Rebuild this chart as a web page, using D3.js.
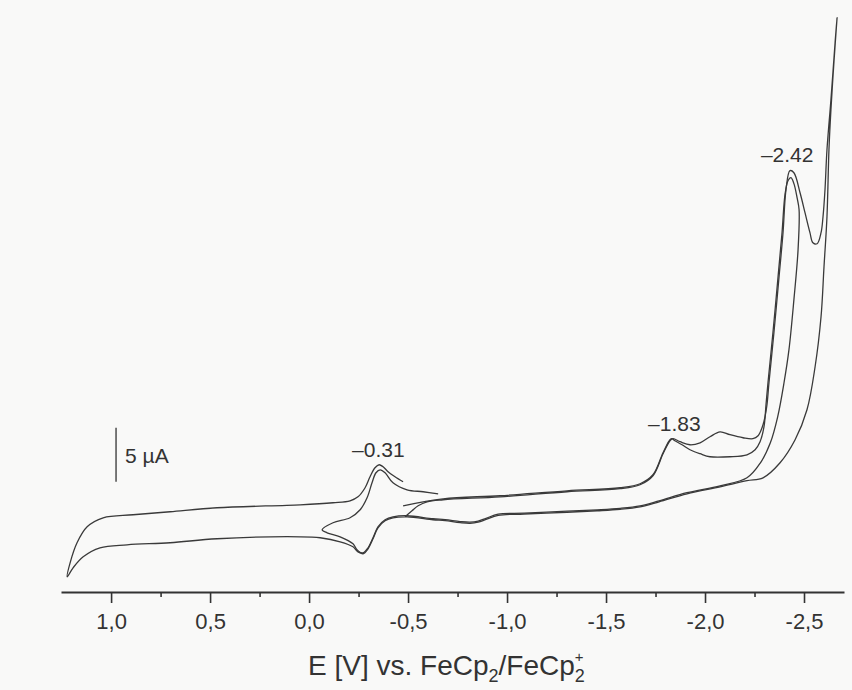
<!DOCTYPE html>
<html>
<head>
<meta charset="utf-8">
<script src="https://cdn.jsdelivr.net/npm/d3@7"></script>
<style>
  body { margin: 0; background: #f9f9f8; }
  svg { display: block; }
  .axis path, .axis line { stroke: #333; }
  .axis text { font-family: "Liberation Sans", Arial, sans-serif; fill: #333; }
  .trace { fill: none; stroke: #3a3a3a; stroke-width: 1.3; stroke-linejoin: round; }
  .note { font-family: "Liberation Sans", Arial, sans-serif; fill: #333; }
</style>
</head>
<body>
<svg id="chart"></svg>
<script>
// Potential axis (V vs. FeCp2/FeCp2+), reversed: positive on the left
const majorTicks = [1.0, 0.5, 0.0, -0.5, -1.0, -1.5, -2.0, -2.5];
const majorLabels = ['1,0', '0,5', '0,0', '-0,5', '-1,0', '-1,5', '-2,0', '-2,5'];
const minorTicks = [0.75, 0.25, -0.25, -0.75, -1.25, -1.75, -2.25];

// Scan 1: start -0.47 V, switch at -2.48 V, back to +1.22 V, end -0.47 V  [E (V), I (µA)]
const scan1 = [
  [-0.475, 1.48], [-0.677, 2.13], [-0.965, 2.41], [-1.303, 2.87], [-1.571, 3.15],
  [-1.672, 3.52], [-1.737, 4.35], [-1.788, 6.39], [-1.823, 7.59], [-1.833, 7.69],
  [-1.848, 7.50], [-1.884, 7.13], [-1.924, 6.67], [-1.975, 6.30], [-2.025, 6.02],
  [-2.126, 6.02], [-2.212, 6.20], [-2.253, 6.67], [-2.278, 7.41], [-2.298, 8.80],
  [-2.308, 10.83], [-2.318, 12.87], [-2.343, 17.50], [-2.369, 22.69], [-2.389, 26.76],
  [-2.404, 30.28], [-2.419, 31.57], [-2.434, 31.85], [-2.449, 31.30], [-2.465, 30.00],
  [-2.475, 28.90], [-2.470, 25.19], [-2.449, 20.56], [-2.424, 15.93], [-2.399, 12.87],
  [-2.367, 9.72], [-2.330, 7.31], [-2.280, 5.46], [-2.212, 4.07], [-2.076, 3.33],
  [-1.909, 2.69], [-1.768, 1.94], [-1.672, 1.48], [-1.571, 1.25], [-1.455, 1.11],
  [-1.303, 0.98], [-1.086, 0.80], [-0.955, 0.70], [-0.894, 0.32], [-0.854, 0.06],
  [-0.813, -0.04], [-0.763, 0.02], [-0.687, 0.20], [-0.626, 0.28], [-0.495, 0.56],
  [-0.424, 0.46], [-0.384, 0.19], [-0.348, -0.46], [-0.323, -1.48], [-0.298, -2.41],
  [-0.273, -2.87], [-0.247, -2.78], [-0.222, -2.31], [-0.157, -1.85], [-0.056, -1.48],
  [0.045, -1.39], [0.465, -1.57], [0.702, -1.94], [0.919, -2.13], [1.056, -2.41],
  [1.141, -3.24], [1.192, -4.26], [1.222, -5.09],
  [1.207, -3.80], [1.172, -1.94], [1.121, -0.46], [1.040, 0.37], [0.889, 0.65],
  [0.702, 0.93], [0.465, 1.30], [0.045, 1.57], [-0.121, 1.76], [-0.207, 1.94],
  [-0.247, 2.31], [-0.283, 3.15], [-0.308, 4.17], [-0.333, 5.00], [-0.354, 5.28],
  [-0.374, 5.09], [-0.399, 4.63], [-0.434, 4.17], [-0.475, 3.70]
];

// Scan 2: start -0.49 V, switch at -2.67 V, back to -0.07 V, end -0.65 V
const scan2 = [
  [-0.485, 0.46], [-0.520, 1.02], [-0.551, 1.48], [-0.596, 1.85], [-0.677, 2.04],
  [-0.965, 2.31], [-1.303, 2.78], [-1.571, 3.06], [-1.672, 3.43], [-1.737, 4.26],
  [-1.788, 6.30], [-1.823, 7.50], [-1.838, 7.69], [-1.874, 7.41], [-1.924, 7.13],
  [-1.975, 7.31], [-2.025, 7.87], [-2.076, 8.33], [-2.126, 8.06], [-2.192, 7.78],
  [-2.242, 7.69], [-2.268, 7.96], [-2.288, 8.70], [-2.303, 9.72], [-2.313, 10.83],
  [-2.323, 12.87], [-2.348, 17.50], [-2.374, 22.69], [-2.394, 26.76], [-2.409, 30.74],
  [-2.429, 32.50], [-2.449, 32.31], [-2.480, 30.46], [-2.505, 28.61], [-2.530, 26.76],
  [-2.545, 25.83], [-2.566, 25.74], [-2.586, 26.76], [-2.596, 28.24], [-2.606, 30.74],
  [-2.616, 34.44], [-2.636, 39.07], [-2.657, 44.35], [-2.667, 46.67],
  [-2.652, 42.78], [-2.636, 38.15], [-2.626, 34.44], [-2.616, 28.24], [-2.601, 23.61],
  [-2.586, 18.98], [-2.556, 14.35], [-2.515, 10.37], [-2.455, 7.59], [-2.379, 5.46],
  [-2.293, 4.07], [-2.212, 3.80], [-2.076, 3.24], [-1.909, 2.59], [-1.768, 1.85],
  [-1.672, 1.39], [-1.571, 1.16], [-1.455, 1.02], [-1.303, 0.88], [-1.086, 0.72],
  [-0.955, 0.60], [-0.894, 0.22], [-0.854, -0.04], [-0.813, -0.14], [-0.763, -0.08],
  [-0.687, 0.10], [-0.626, 0.19], [-0.495, 0.46], [-0.424, 0.37], [-0.384, 0.09],
  [-0.348, -0.56], [-0.323, -1.57], [-0.298, -2.50], [-0.273, -2.96], [-0.242, -2.59],
  [-0.222, -2.04], [-0.157, -1.39], [-0.091, -1.02], [-0.066, -0.74],
  [-0.121, -0.09], [-0.207, 0.37], [-0.258, 1.11], [-0.293, 2.22], [-0.318, 3.61],
  [-0.338, 4.54], [-0.359, 4.81], [-0.384, 4.54], [-0.424, 3.61], [-0.495, 2.96],
  [-0.576, 2.78], [-0.652, 2.59]
];

// Peak annotations (potential, current at the peak top)
const peakLabels = ['\u20130.31', '\u20131.83', '\u20132.42'];
const peakE = [-0.350, -1.845, -2.415];
const peakI = [5.28, 7.69, 32.59];

// Current scale bar
const scaleBarValue = 5; // µA

const width = 852, height = 690;

const svg = d3.select('#chart')
  .attr('width', width)
  .attr('height', height);

// Scales: ~198 px per volt, ~10.8 px per µA
const xScale = d3.scaleLinear().domain([1.253, -2.702]).range([61, 844]);
const yScale = d3.scaleLinear().domain([-6.5, 48.3]).range([592, 0]);

const line = d3.line()
  .x(d => xScale(d[0]))
  .y(d => yScale(d[1]))
  .curve(d3.curveCatmullRom.alpha(0.5));

// Traces
svg.selectAll('.trace')
  .data([scan1, scan2])
  .join('path')
  .attr('class', 'trace')
  .attr('d', line);

// Minor ticks
svg.append('g')
  .attr('class', 'axis minor')
  .attr('transform', `translate(0,${yScale.range()[0]})`)
  .call(d3.axisBottom(xScale).tickValues(minorTicks).tickSize(5).tickSizeOuter(0).tickFormat(''))
  .call(g => g.select('.domain').remove())
  .call(g => g.selectAll('line').attr('stroke-width', 1.6));

// Major axis
const xAxisG = svg.append('g')
  .attr('class', 'axis x-axis')
  .attr('transform', `translate(0,${yScale.range()[0]})`)
  .call(d3.axisBottom(xScale)
    .tickValues(majorTicks)
    .tickFormat((d, i) => majorLabels[i])
    .tickSize(11)
    .tickSizeOuter(0)
    .tickPadding(10));

xAxisG.select('.domain').attr('stroke-width', 2);
xAxisG.selectAll('.tick line').attr('stroke-width', 1.6);
xAxisG.selectAll('.tick text').attr('font-size', 22);

// Axis title
const title = svg.append('text')
  .attr('class', 'note')
  .attr('x', 308)
  .attr('y', 675)
  .attr('font-size', 28);
title.append('tspan').text('E [V] vs. FeCp');
title.append('tspan').attr('font-size', 18).attr('dy', 7).text('2');
title.append('tspan').attr('dy', -7).text('/FeCp');
title.append('tspan').attr('font-size', 18).attr('dy', 7).text('2');
title.append('tspan').attr('font-size', 15).attr('dx', -10).attr('dy', -20).text('+');

// Peak labels
svg.selectAll('.peak-label')
  .data(peakLabels)
  .join('text')
  .attr('class', 'note peak-label')
  .attr('x', (d, i) => xScale(peakE[i]))
  .attr('y', (d, i) => yScale(peakI[i]) - 8)
  .attr('text-anchor', 'middle')
  .attr('font-size', 21)
  .text(d => d);

// Scale bar
const barE = 0.975, barI0 = 3.7;
svg.append('line')
  .attr('x1', xScale(barE)).attr('x2', xScale(barE))
  .attr('y1', yScale(barI0)).attr('y2', yScale(barI0 + scaleBarValue))
  .attr('stroke', '#333')
  .attr('stroke-width', 1.3);

svg.append('text')
  .attr('class', 'note')
  .attr('x', xScale(barE) + 9)
  .attr('y', yScale(barI0) - 19)
  .attr('font-size', 21)
  .text(`${scaleBarValue} \u00b5A`);
</script>
</body>
</html>
